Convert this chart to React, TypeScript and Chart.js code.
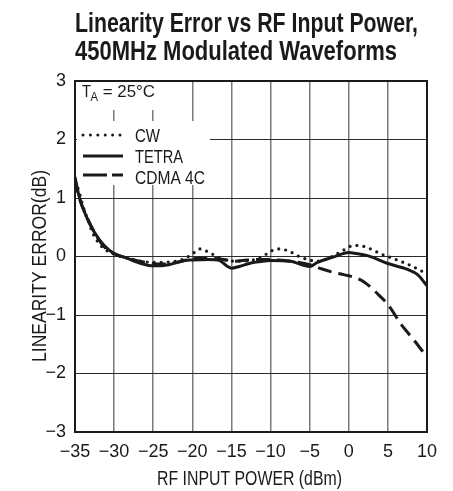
import React, { useEffect, useRef } from "react";
import { Chart, registerables } from "chart.js";

Chart.register(...registerables);

const FONT = "'Liberation Sans', Arial, sans-serif";

const TITLE_LINES = ["Linearity Error vs RF Input Power,", "450MHz Modulated Waveforms"];
const X_TITLE = "RF INPUT POWER (dBm)";
const Y_TITLE = "LINEARITY ERROR(dB)";
const X_TICKS = [-35, -30, -25, -20, -15, -10, -5, 0, 5, 10];
const Y_TICKS = [-3, -2, -1, 0, 1, 2, 3];
const SERIES_NAMES = ["CW", "TETRA", "CDMA 4C"];
const TEMP_LABEL = ["T", "A", " = 25°C"];

const cwX = [-35, -34.6, -34, -33.4, -32.7, -31.5, -30, -28, -25, -22, -20.5, -19.5, -19, -18, -17, -15.5, -13.8, -12, -11, -10, -9, -7.8, -6.5, -5.3, -4, -2.3, -0.8, 0.7, 2, 4.2, 5.8, 7.5, 9.2, 10];
const cwY = [1.27, 1.16, 0.87, 0.64, 0.39, 0.16, 0.04, -0.04, -0.1, -0.08, 0.0, 0.09, 0.13, 0.08, 0.01, -0.07, -0.08, -0.05, 0.0, 0.09, 0.13, 0.1, 0.01, -0.05, -0.08, -0.01, 0.1, 0.19, 0.17, 0.04, -0.04, -0.13, -0.24, -0.3];

const tetraX = [-35, -34.5, -33.6, -32.5, -31.3, -30, -28.5, -27, -25, -23, -21, -20, -18, -16.5, -15.5, -15, -14, -12.5, -11, -10, -7.5, -5, -4, -2, 0, 1, 2.5, 5, 7.5, 8.8, 10];
const tetraY = [1.36, 1.04, 0.7, 0.41, 0.19, 0.05, -0.02, -0.1, -0.16, -0.14, -0.07, -0.06, -0.05, -0.07, -0.17, -0.2, -0.17, -0.11, -0.08, -0.07, -0.08, -0.17, -0.1, -0.01, 0.07, 0.05, 0.01, -0.12, -0.22, -0.31, -0.5];

const cdmaX = [-35, -34.5, -33.5, -32.3, -31, -30, -28, -26, -24, -22, -20, -18, -16, -14.5, -13, -11, -9, -7, -5, -3.5, -2, -1, 0, 1, 2, 3, 3.7, 5, 6.7, 8.4, 9.7, 10];
const cdmaY = [1.33, 1.02, 0.68, 0.36, 0.13, 0.05, -0.04, -0.1, -0.13, -0.1, -0.04, -0.03, -0.05, -0.08, -0.06, -0.05, -0.06, -0.09, -0.14, -0.21, -0.27, -0.3, -0.33, -0.37, -0.44, -0.55, -0.64, -0.82, -1.16, -1.44, -1.67, -1.73];

const fmt = (v: number) => (v < 0 ? "\u2212" + Math.abs(v) : String(v));
const pts = (xs: number[], ys: number[]) => xs.map((x, i) => ({ x, y: ys[i] }));

function fitText(ctx: CanvasRenderingContext2D, text: string, x: number, y: number, w: number, font: string, align: "left" | "center" = "left") {
  ctx.save();
  ctx.font = font;
  const m = ctx.measureText(text).width;
  const s = w / m;
  ctx.translate(x, y);
  ctx.scale(s, 1);
  ctx.textAlign = align;
  ctx.textBaseline = "alphabetic";
  ctx.fillText(text, 0, 0);
  ctx.restore();
}

const decor = {
  id: "decor",
  beforeDatasetsDraw(chart: any) {
    const { ctx, chartArea: a } = chart;
    ctx.save();
    ctx.fillStyle = "#fff";
    ctx.fillRect(a.left + 1, a.top + 1, 100, 28);
    ctx.fillRect(a.left + 2, a.top + 40, 133, 64);
    ctx.strokeStyle = "#1a1a1a";
    ctx.lineWidth = 2;
    ctx.strokeRect(a.left, a.top, a.right - a.left, a.bottom - a.top);
    ctx.fillStyle = "#1a1a1a";
    ctx.textBaseline = "alphabetic";
    ctx.textAlign = "left";
    fitText(ctx, TEMP_LABEL[0], 82, 97, 9, `16px ${FONT}`);
    fitText(ctx, TEMP_LABEL[1], 90.5, 100.5, 7.5, `12px ${FONT}`);
    fitText(ctx, TEMP_LABEL[2], 98, 97, 57, `16px ${FONT}`);
    ctx.strokeStyle = "#1a1a1a";
    ctx.lineWidth = 3;
    ctx.lineCap = "round";
    ctx.setLineDash([0, 7.4]);
    ctx.beginPath(); ctx.moveTo(83, 135); ctx.lineTo(121, 135); ctx.stroke();
    ctx.lineCap = "butt";
    ctx.setLineDash([]);
    ctx.beginPath(); ctx.moveTo(83, 156); ctx.lineTo(123, 156); ctx.stroke();
    ctx.setLineDash([24, 5]);
    ctx.beginPath(); ctx.moveTo(83, 175); ctx.lineTo(123, 175); ctx.stroke();
    ctx.setLineDash([]);
    fitText(ctx, SERIES_NAMES[0], 135, 141.5, 25, `18px ${FONT}`);
    fitText(ctx, SERIES_NAMES[1], 135, 162.5, 48, `18px ${FONT}`);
    fitText(ctx, SERIES_NAMES[2], 135, 183.5, 70, `18px ${FONT}`);
    ctx.restore();
  },
  afterDraw(chart: any) {
    const { ctx } = chart;
    ctx.save();
    ctx.fillStyle = "#1a1a1a";
    fitText(ctx, TITLE_LINES[0], 75, 32, 343, `bold 27px ${FONT}`);
    fitText(ctx, TITLE_LINES[1], 75, 60, 322, `bold 27px ${FONT}`);
    fitText(ctx, X_TITLE, 249.5, 485, 185, `20px ${FONT}`, "center");
    ctx.translate(45.5, 266);
    ctx.rotate(-Math.PI / 2);
    fitText(ctx, Y_TITLE, 0, 0, 192, `20px ${FONT}`, "center");
    ctx.restore();
  },
};

export default function App() {
  const ref = useRef<HTMLCanvasElement>(null);
  useEffect(() => {
    const common = { pointRadius: 0, borderColor: "#1a1a1a", fill: false, cubicInterpolationMode: "monotone" as const };
    const chart = new Chart(ref.current!, {
      type: "line",
      data: {
        datasets: [
          { ...common, label: SERIES_NAMES[0], data: pts(cwX, cwY), borderWidth: 3.2, borderDash: [0, 7], borderCapStyle: "round" },
          { ...common, label: SERIES_NAMES[1], data: pts(tetraX, tetraY), borderWidth: 3 },
          { ...common, label: SERIES_NAMES[2], data: pts(cdmaX, cdmaY), borderWidth: 3, borderDash: [14, 7], borderCapStyle: "butt" },
        ],
      },
      options: {
        responsive: false,
        devicePixelRatio: 1,
        animation: false,
        layout: { padding: { top: 81, right: 26, left: 0, bottom: 0 } },
        plugins: { legend: { display: false }, title: { display: false }, tooltip: { enabled: false } },
        scales: {
          x: {
            type: "linear",
            min: -35,
            max: 10,
            afterBuildTicks: (s: any) => { s.ticks = X_TICKS.map((v) => ({ value: v })); },
            afterFit: (s: any) => { s.height = 59; },
            ticks: { callback: (v: any) => fmt(Number(v)), font: { family: FONT, size: 18 }, color: "#1a1a1a", padding: 9, maxRotation: 0, autoSkip: false },
            grid: { color: "#7a7a7a", lineWidth: 1.5, drawTicks: false },
            border: { display: false },
          },
          y: {
            type: "linear",
            min: -3,
            max: 3,
            afterBuildTicks: (s: any) => { s.ticks = Y_TICKS.map((v) => ({ value: v })); },
            afterFit: (s: any) => { s.width = 75; },
            ticks: { callback: (v: any) => fmt(Number(v)), font: { family: FONT, size: 18 }, color: "#1a1a1a", padding: 9 },
            grid: { color: "#2a2a2a", lineWidth: 1, drawTicks: false },
            border: { display: false },
          },
        },
      },
      plugins: [decor],
    });
    return () => chart.destroy();
  }, []);
  return (
    <div style={{ position: "fixed", left: 0, top: 0, width: 453, height: 491, background: "#fff" }}>
      <canvas ref={ref} width={453} height={491} style={{ display: "block" }} />
    </div>
  );
}
